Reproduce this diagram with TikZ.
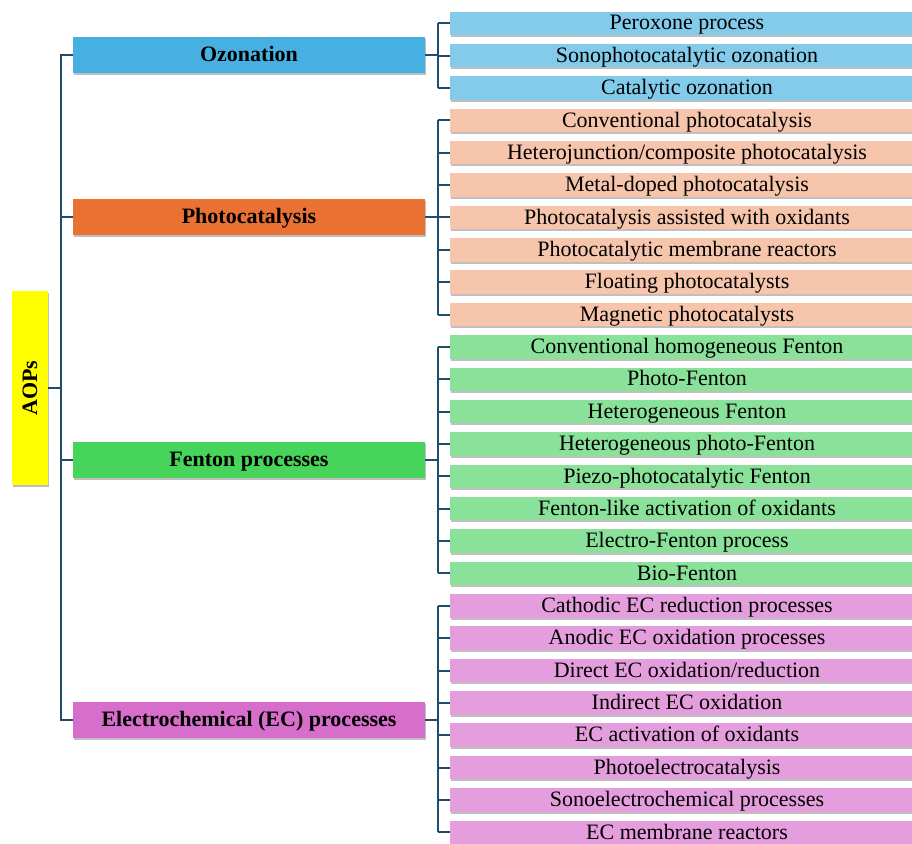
\documentclass[tikz,border=0pt]{standalone}
\usepackage{fontspec}
\setmainfont{Liberation Serif}
\usetikzlibrary{shadows}
\definecolor{linec}{HTML}{1F4E6B}
\definecolor{aopy}{HTML}{FFFF00}
\definecolor{ozm}{HTML}{45B0E1}
\definecolor{ozl}{HTML}{83CBEB}
\definecolor{phm}{HTML}{E97132}
\definecolor{phl}{HTML}{F6C5AC}
\definecolor{fem}{HTML}{47D45A}
\definecolor{fel}{HTML}{8AE29A}
\definecolor{ecm}{HTML}{D86ECC}
\definecolor{ecl}{HTML}{E59EDD}
\begin{document}
\begin{tikzpicture}[x=1pt,y=-1pt,
  box/.style={draw=none, inner sep=0pt, outer sep=0pt,
    drop shadow={shadow xshift=1pt, shadow yshift=-2pt, opacity=0.25, fill=black}},
  mainbox/.style={box, minimum width=352pt, minimum height=36pt,
    text height=16pt, text depth=2.6pt,
    font=\fontsize{22}{22}\selectfont\bfseries},
  leafbox/.style={box, anchor=west, minimum width=474pt, minimum height=23.5pt,
    text height=16pt, text depth=2.6pt,
    font=\fontsize{22}{22}\selectfont},
  conn/.style={draw=linec, line width=2pt}]
\useasboundingbox (0,0) rectangle (912,843);

% root
\node[box, fill=aopy, minimum width=36pt, minimum height=194pt,
  font=\fontsize{22}{22}\selectfont\bfseries] (aops) at (30,388) {\rotatebox{90}{AOPs}};

% main categories
\node[mainbox, fill=ozm] (oz) at (249,55) {Ozonation};
\node[mainbox, fill=phm] (ph) at (249,216.5) {Photocatalysis};
\node[mainbox, fill=fem] (fe) at (249,460) {Fenton processes};
\node[mainbox, fill=ecm] (ec) at (249,720) {Electrochemical (EC) processes};

\coordinate (trunk) at (61,0);
\coordinate (bus) at (438,0);

% leaves
\foreach \t [count=\i from 0] in {Peroxone process,Sonophotocatalytic ozonation,Catalytic ozonation}
  {\node[leafbox, fill=ozl] (L\i) at (450,23.3+32.36*\i) {\t};}
\foreach \t [count=\i from 3] in {Conventional photocatalysis,Heterojunction/composite photocatalysis,Metal-doped photocatalysis,Photocatalysis assisted with oxidants,Photocatalytic membrane reactors,Floating photocatalysts,Magnetic photocatalysts}
  {\node[leafbox, fill=phl] (L\i) at (450,23.3+32.36*\i) {\t};}
\foreach \t [count=\i from 10] in {Conventional homogeneous Fenton,Photo-Fenton,Heterogeneous Fenton,Heterogeneous photo-Fenton,Piezo-photocatalytic Fenton,Fenton-like activation of oxidants,Electro-Fenton process,Bio-Fenton}
  {\node[leafbox, fill=fel] (L\i) at (450,23.3+32.36*\i) {\t};}
\foreach \t [count=\i from 18] in {Cathodic EC reduction processes,Anodic EC oxidation processes,Direct EC oxidation/reduction,Indirect EC oxidation,EC activation of oxidants,Photoelectrocatalysis,Sonoelectrochemical processes,EC membrane reactors}
  {\node[leafbox, fill=ecl] (L\i) at (450,23.3+32.36*\i) {\t};}

% trunk connectors
\draw[conn] (oz.west) -- (oz.west -| trunk) -- (ec.west -| trunk) -- (ec.west);
\draw[conn] (aops.east) -- (aops.east -| trunk);
\draw[conn] (ph.west) -- (ph.west -| trunk);
\draw[conn] (fe.west) -- (fe.west -| trunk);

% bus connectors
\draw[conn] (oz.east) -- (oz.east -| bus);
\draw[conn] (ph.east) -- (ph.east -| bus);
\draw[conn] (fe.east) -- (fe.east -| bus);
\draw[conn] (ec.east) -- (ec.east -| bus);
\draw[conn] (L0.west -| bus) -- (L2.west -| bus);
\draw[conn] (L3.west -| bus) -- (L9.west -| bus);
\draw[conn] (L10.west -| bus) -- (L17.west -| bus);
\draw[conn] (L18.west -| bus) -- (L25.west -| bus);
\foreach \i in {0,...,25} {\draw[conn] (L\i.west) -- (L\i.west -| bus);}
\end{tikzpicture}
\end{document}
